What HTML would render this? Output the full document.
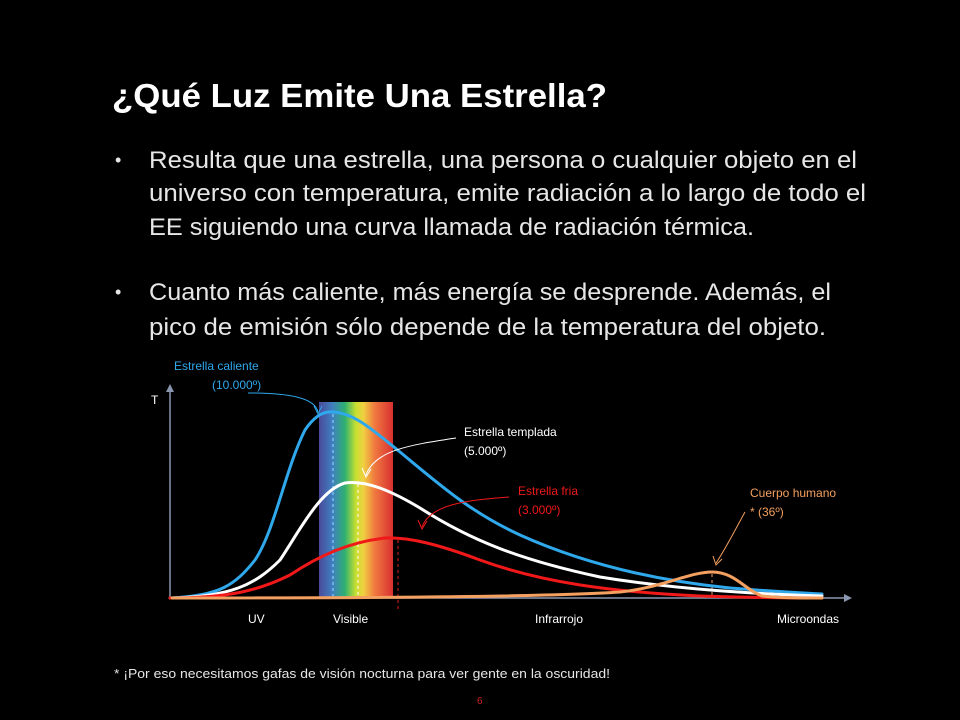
<!DOCTYPE html>
<html><head><meta charset="utf-8"><style>
html,body{margin:0;padding:0;background:#000;width:960px;height:720px;overflow:hidden}
text{font-family:"Liberation Sans",sans-serif}
</style></head><body>
<svg width="960" height="720" viewBox="0 0 960 720" xmlns="http://www.w3.org/2000/svg">
<defs>
<linearGradient id="rb" x1="0" x2="1" y1="0" y2="0">
<stop offset="0" stop-color="#4a4a9a"/>
<stop offset="0.18" stop-color="#3f7fc0"/>
<stop offset="0.35" stop-color="#2fb070"/>
<stop offset="0.5" stop-color="#c8e030"/>
<stop offset="0.6" stop-color="#f0d040"/>
<stop offset="0.75" stop-color="#f07a40"/>
<stop offset="1" stop-color="#d83030"/>
</linearGradient>
</defs>
<rect width="960" height="720" fill="#000"/>
<text x="112" y="107" fill="#fff" font-size="33" font-weight="bold" textLength="495" lengthAdjust="spacingAndGlyphs">¿Qué Luz Emite Una Estrella?</text>
<g fill="#e6e6e6" font-size="24">
<text x="115" y="166" font-size="18">•</text>
<text x="149" y="168" textLength="708" lengthAdjust="spacingAndGlyphs">Resulta que una estrella, una persona o cualquier objeto en el</text>
<text x="149" y="201" textLength="717" lengthAdjust="spacingAndGlyphs">universo con temperatura, emite radiación a lo largo de todo el</text>
<text x="149" y="235" textLength="605" lengthAdjust="spacingAndGlyphs">EE siguiendo una curva llamada de radiación térmica.</text>
<text x="115" y="298" font-size="18">•</text>
<text x="149" y="300" textLength="682" lengthAdjust="spacingAndGlyphs">Cuanto más caliente, más energía se desprende. Además, el</text>
<text x="149" y="335" textLength="677" lengthAdjust="spacingAndGlyphs">pico de emisión sólo depende de la temperatura del objeto.</text>
</g>
<rect x="319" y="402" width="74" height="196" fill="url(#rb)"/>
<!-- axes -->
<line x1="170" y1="598" x2="170" y2="390" stroke="#8a96b0" stroke-width="1.5"/>
<polygon points="166,392 174,392 170,384" fill="#8a96b0"/>
<line x1="170" y1="598" x2="846" y2="598" stroke="#8a96b0" stroke-width="1.5"/>
<polygon points="844,594 844,602 852,598" fill="#8a96b0"/>
<!-- dashed peaks -->
<line x1="333" y1="414" x2="333" y2="598" stroke="#9fd8ff" stroke-dasharray="3,3" stroke-width="1"/>
<line x1="358" y1="484" x2="358" y2="598" stroke="#fff" stroke-dasharray="3,3" stroke-width="1"/>
<line x1="398" y1="540" x2="398" y2="612" stroke="#e02020" stroke-dasharray="3,3" stroke-width="1"/>
<line x1="712" y1="574" x2="712" y2="598" stroke="#f4a060" stroke-dasharray="3,3" stroke-width="1"/>
<g fill="none" stroke-width="3" stroke-linejoin="round" stroke-linecap="round">
<path stroke="#2fa8ec" d="M170,598 C220,596 235,585 255,560 C275,530 285,470 305,430 C315,415 325,411 333,412 C355,413 375,432 400,452 C440,485 470,512 520,535 C580,562 650,580 730,588 C780,592 805,593 822,594"/>
<path stroke="#ffffff" d="M170,598 C230,597 255,585 280,560 C300,530 320,490 345,483 C365,480 390,490 420,508 C470,540 520,560 600,577 C680,590 760,594 822,596"/>
<path stroke="#f01818" d="M170,598 C230,598 260,590 290,575 C320,555 350,542 385,538 C410,537 440,545 480,560 C540,582 610,592 700,596 C760,598 800,598 822,598"/>
<path stroke="#f4a060" d="M172,598 C350,598 550,597 620,592 C660,588 690,572 712,572 C735,572 745,590 762,596 C780,598 800,598 822,598"/>
</g>
<!-- pointer arrows -->
<path d="M248,393 C290,393 315,398 318,412" fill="none" stroke="#2fa8ec" stroke-width="1"/>
<path d="M314,406 L318,414 L322,406" fill="none" stroke="#2fa8ec" stroke-width="1"/>
<path d="M456,438 C410,445 375,450 366,475" fill="none" stroke="#fff" stroke-width="1"/>
<path d="M362,468 L366,477 L371,469" fill="none" stroke="#fff" stroke-width="1"/>
<path d="M509,497 C465,500 430,505 422,527" fill="none" stroke="#f01818" stroke-width="1"/>
<path d="M418,520 L422,529 L427,521" fill="none" stroke="#f01818" stroke-width="1"/>
<path d="M745,512 C735,530 725,550 716,563" fill="none" stroke="#f4a060" stroke-width="1"/>
<path d="M713,556 L716,565 L722,559" fill="none" stroke="#f4a060" stroke-width="1"/>
<g font-size="12">
<text x="174" y="370" fill="#2fa8ec">Estrella caliente</text>
<text x="212" y="389" fill="#2fa8ec">(10.000º)</text>
<text x="151" y="404" fill="#fff">T</text>
<text x="464" y="436" fill="#fff">Estrella templada</text>
<text x="464" y="455" fill="#fff">(5.000º)</text>
<text x="518" y="495" fill="#f01818">Estrella fria</text>
<text x="518" y="514" fill="#f01818">(3.000º)</text>
<text x="750" y="497" fill="#f4a060">Cuerpo humano</text>
<text x="750" y="516" fill="#f4a060">* (36º)</text>
<text x="248" y="623" fill="#fff">UV</text>
<text x="333" y="623" fill="#fff">Visible</text>
<text x="535" y="623" fill="#fff">Infrarrojo</text>
<text x="777" y="623" fill="#fff">Microondas</text>
</g>
<text x="114" y="678" fill="#e6e6e6" font-size="13" textLength="496" lengthAdjust="spacingAndGlyphs">* ¡Por eso necesitamos gafas de visión nocturna para ver gente en la oscuridad!</text>
<text x="477" y="704" fill="#d02020" font-size="10">6</text>
</svg>
</body></html>
